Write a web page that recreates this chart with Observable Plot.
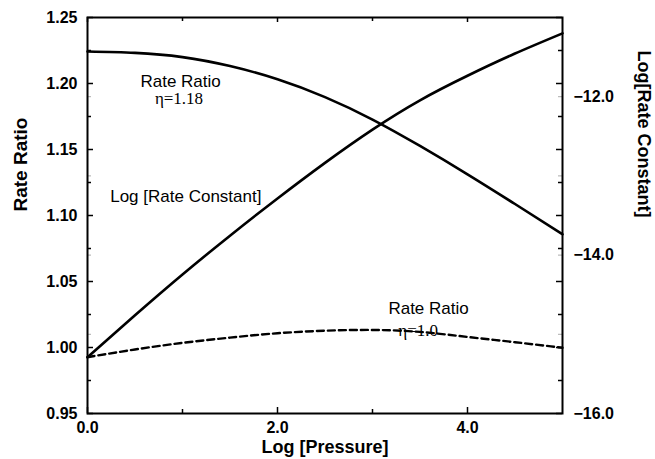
<!DOCTYPE html>
<html><head><meta charset="utf-8">
<script src="https://cdn.jsdelivr.net/npm/d3@7"></script>
<script src="https://cdn.jsdelivr.net/npm/@observablehq/plot@0.6"></script>
<style>body{margin:0;background:#fff} svg{display:block}</style>
</head><body><div id="chart"></div>
<script>
// ---- data ----
const logPressure     = [0, 0.5, 1, 1.5, 2, 2.5, 3, 3.5, 4, 4.5, 5];
const ratioEta118     = [1.2242, 1.2232, 1.2200, 1.2132, 1.2032, 1.1897, 1.1727, 1.1527, 1.1312, 1.1087, 1.0858];
const logRateConstant = [-15.29, -14.76, -14.245, -13.755, -13.285, -12.835, -12.415, -12.045, -11.735, -11.455, -11.20];
const ratioEta10      = [0.9927, 0.9985, 1.0035, 1.0075, 1.0108, 1.0127, 1.0133, 1.0118, 1.0080, 1.0040, 0.9998];

const xMajorTicks = [0, 2, 4];
const xMinorTicks = [1, 3];
const leftMajorTicks = [0.95, 1.00, 1.05, 1.10, 1.15, 1.20, 1.25];
const leftMinorTicks = [0.975, 1.025, 1.075, 1.125, 1.175, 1.225];
const rightLabelTicks = [-16, -14, -12];
const rightFaintTicks = [-15, -14, -13, -12];
const rightDomain = [-16, -11];

const titles = {x: "Log [Pressure]", yLeft: "Rate Ratio", yRight: "Log[Rate Constant]"};

const annotations = [
  {x: 0.98, y: 1.2015, text: "Rate Ratio", serif: false},
  {x: 0.963, y: 1.1883, text: "η=1.18", serif: true},
  {x: 1.035, y: 1.1144, text: "Log [Rate Constant]", serif: false},
  {x: 3.59, y: 1.0292, text: "Rate Ratio", serif: false},
  {x: 3.48, y: 1.0125, text: "η=1.0", serif: true}
];

// ---- build ----
const leftDomain = [0.95, 1.25];
const toLeft = d3.scaleLinear(rightDomain, leftDomain);
const rows = logPressure.map((x, i) => ({
  x, a: ratioEta118[i], b: toLeft(logRateConstant[i]), c: ratioEta10[i]
}));

const W = 655, H = 459;
const mL = 87, mR = 93, mT = 17, mB = 46;
const iw = W - mL - mR, ih = H - mT - mB;
const sans = "'Liberation Sans', Arial, Helvetica, sans-serif";
const serif = "'Liberation Serif', 'Times New Roman', serif";
const f2 = d3.format(".2f"), f1 = d3.format(".1f");

const chart = Plot.plot({
  width: W, height: H,
  marginLeft: mL, marginRight: mR, marginTop: mT, marginBottom: mB,
  style: {fontFamily: sans, fontSize: "16px", fontWeight: "bold", color: "black", background: "white"},
  x: {domain: [0, 5]},
  y: {domain: leftDomain},
  marks: [
    // tick marks (inward)
    Plot.tickY(leftMajorTicks, {y: d => d, insetRight: iw - 6, strokeWidth: 1.5}),
    Plot.tickY(leftMinorTicks, {y: d => d, insetRight: iw - 4, strokeWidth: 1.5}),
    Plot.tickY(leftMajorTicks, {y: d => d, insetLeft: iw - 6, strokeWidth: 1.5}),
    Plot.tickY(leftMinorTicks, {y: d => d, insetLeft: iw - 4, strokeWidth: 1.5}),
    Plot.tickY(rightFaintTicks, {y: d => toLeft(d), insetRight: iw - 4, stroke: "#aaa"}),
    Plot.tickY(rightFaintTicks, {y: d => toLeft(d), insetLeft: iw - 4, stroke: "#aaa"}),
    Plot.tickX(xMajorTicks, {x: d => d, insetTop: ih - 6, strokeWidth: 1.5}),
    Plot.tickX(xMinorTicks, {x: d => d, insetTop: ih - 4, strokeWidth: 1.5}),
    Plot.tickX(xMajorTicks, {x: d => d, insetBottom: ih - 5, strokeWidth: 1.5}),
    Plot.tickX(xMinorTicks, {x: d => d, insetBottom: ih - 4, strokeWidth: 1.5}),
    // axes (tick labels only)
    Plot.axisY({anchor: "left", ticks: leftMajorTicks, tickFormat: f2, tickSize: 0, tickPadding: 10, label: null}),
    Plot.axisY({anchor: "right", ticks: rightLabelTicks.map(toLeft), tickFormat: v => f1(Math.round(toLeft.invert(v) * 10) / 10),
      tickSize: 0, tickPadding: 11, label: null}),
    Plot.axisX({anchor: "bottom", ticks: xMajorTicks, tickFormat: f1, tickSize: 0, tickPadding: 8, label: null}),
    // axis titles
    Plot.text([titles.yLeft], {text: d => d, frameAnchor: "left", dx: -67, dy: -4, rotate: -90, fontSize: 19}),
    Plot.text([titles.yRight], {text: d => d, frameAnchor: "right", dx: 81, dy: 2, rotate: 90, fontSize: 18}),
    Plot.text([titles.x], {text: d => d, frameAnchor: "bottom", dy: 39, fontSize: 18}),
    // curves
    Plot.line(rows, {x: "x", y: "a", curve: "natural", strokeWidth: 2.6}),
    Plot.line(rows, {x: "x", y: "b", curve: "natural", strokeWidth: 2.6}),
    Plot.line(rows, {x: "x", y: "c", curve: "natural", strokeWidth: 2.4, strokeDasharray: "7,4"}),
    // annotations
    Plot.text(annotations.filter(d => !d.serif), {x: "x", y: "y", text: "text", fontSize: 17, fontWeight: "normal", fontFamily: sans}),
    Plot.text(annotations.filter(d => d.serif), {x: "x", y: "y", text: "text", fontSize: 17, fontWeight: "normal", fontFamily: serif}),
    Plot.frame({strokeWidth: 2})
  ]
});
document.getElementById("chart").append(chart);
</script>
</body></html>
